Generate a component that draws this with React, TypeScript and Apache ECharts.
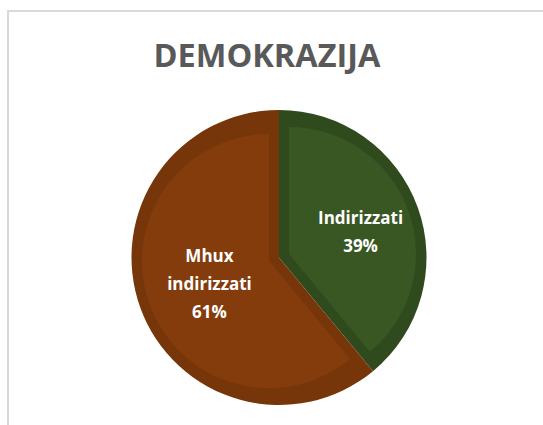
import React, { useEffect, useRef } from "react";
import * as echarts from "echarts";

const titleText = "DEMOKRAZIJA";
const categories = ["Indirizzati", "Mhux indirizzati"];
const labelLines = ["Indirizzati", "Mhux\nindirizzati"];
const values = [39, 61];
const fillColors = ["#385723", "#843C0C"];
const edgeColors = ["#2F4B1D", "#77360A"];

export default function App() {
  const ref = useRef<HTMLDivElement>(null);
  useEffect(() => {
    if (!ref.current) return;
    const chart = echarts.init(ref.current, undefined, { renderer: "svg" });
    const center = [279, 257.5];
    chart.setOption({
      animation: false,
      title: {
        text: titleText,
        left: 262,
        top: 33,
        textAlign: "center",
        textStyle: {
          fontFamily: "Open Sans",
          fontWeight: "bold",
          fontSize: 32.5,
          color: "#595959",
        },
      },
      graphic: [
        {
          type: "rect",
          shape: { x: 8, y: 11, width: 600, height: 500 },
          style: { fill: "none", stroke: "#D9D9D9", lineWidth: 2 },
          silent: true,
        },
      ],
      series: [
        {
          type: "pie",
          silent: true,
          startAngle: 90,
          clockwise: true,
          center,
          radius: [0, 147.5],
          label: { show: false },
          labelLine: { show: false },
          data: categories.map((name, i) => ({
            name,
            value: values[i],
            itemStyle: { color: edgeColors[i] },
          })),
        },
        {
          type: "pie",
          silent: true,
          startAngle: 90,
          clockwise: true,
          center,
          radius: [0, 127],
          selectedMode: "multiple",
          selectedOffset: 10.6,
          z: 3,
          label: {
            show: true,
            position: "inside",
            color: "#FFFFFF",
            fontFamily: "Open Sans",
            fontWeight: "bold",
            fontSize: 17,
            lineHeight: 28,
            formatter: (p: any) => `${labelLines[p.dataIndex]}\n${p.value}%`,
          },
          labelLine: { show: false },
          data: categories.map((name, i) => ({
            name,
            value: values[i],
            selected: true,
            itemStyle: { color: fillColors[i] },
            label: i === 0 ? { padding: [0, 0, 0, 18] } : { padding: [2, 0, 0, 6] },
          })),
        },
      ],
    });
    return () => chart.dispose();
  }, []);
  return (
    <div
      ref={ref}
      style={{ position: "fixed", left: 0, top: 0, width: 543, height: 425, background: "#fff" }}
    />
  );
}
